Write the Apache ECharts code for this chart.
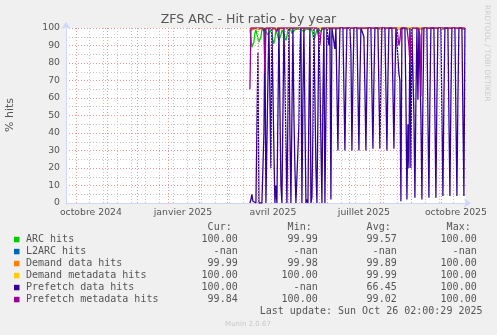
<!DOCTYPE html>
<html><head><meta charset="utf-8">
<script src="https://cdn.jsdelivr.net/npm/echarts@6/dist/echarts.min.js"></script>
<style>html,body{margin:0;padding:0;background:#F0F0F0;}#c{width:497px;height:335px;}</style>
</head><body><div id="c"></div>
<script>
// time range of the graph (400 days, ends at last update)
const rangeStart = Date.UTC(2024, 8, 21, 2, 0, 29);
const rangeEnd = Date.UTC(2025, 9, 26, 2, 0, 29);
const dataStart = '2025-03-24'; // first daily sample, one value per day after
const yTicks = [0, 10, 20, 30, 40, 50, 60, 70, 80, 90, 100];
const xLabelDates = ['2024-10-16', '2025-01-16', '2025-04-16', '2025-07-16', '2025-10-16'];
const xLabelTexts = ['octobre 2024', 'janvier 2025', 'avril 2025', 'juillet 2025', 'octobre 2025'];
const monthGridDates = ['2024-10-01','2024-11-01','2024-12-01','2025-01-01','2025-02-01','2025-03-01','2025-04-01','2025-05-01','2025-06-01','2025-07-01','2025-08-01','2025-09-01','2025-10-01'];
const weekGridDates = ['2024-10-14','2024-10-28','2024-11-11','2024-11-25','2024-12-09','2024-12-23','2025-01-06','2025-01-20','2025-02-03','2025-02-17','2025-03-03','2025-03-17','2025-03-31','2025-04-14','2025-04-28','2025-05-12','2025-05-26','2025-06-09','2025-06-23','2025-07-07','2025-07-21','2025-08-04','2025-08-18','2025-09-01','2025-09-15','2025-09-29','2025-10-13'];

const arcHits = [
 99,98,89,90,92,97,99,99,
 94,92,93,95,99,99.5,99,99,
 99,99,96,95,96,99,99,93,
 91,94,99,99,95,93,94,96,
 99,99,99,95,93,95,99,99,
 99,99,97,96,97,99,99,99,
 99.5,99,99,99,98,98,98,99,
 99.5,99.5,99.5,99,99,99,99,96,
 93,94,97,99,99,99,98,98,
 98,99.5,99.5,99.8,99.5,99.8,99.8,99.5,
 99.8,99.5,99.8,99.8,99.8,99.6,99.8,99.8,
 99.5,99.8,99.8,99.9,99.8,99.8,99.7,99.5,
 99.8,99.9,99.8,99.8,99.8,99.6,99.4,99.8,
 99.9,99.8,99.9,99.8,99.7,99.5,99.8,99.9,
 99.8,99.8,99.8,99.6,99.4,99.8,99.9,99.8,
 99.9,99.8,99.6,99.5,99.8,99.9,99.8,99.9,
 99.8,99.7,99.4,99.8,99.9,99.8,99.8,99.9,
 99.7,99.5,99.8,99.9,99.8,99.9,99.8,99.6,
 99.4,99.8,99.9,99.8,99.6,99.3,99.5,99.4,
 99.8,99.9,99.8,99.9,99.6,99.4,99.6,99.5,
 99.6,99.8,99.9,99.8,99.6,99.3,99.8,99.9,
 99.6,99.8,99.7,99.4,99.3,99.8,99.9,99.9,
 99.8,99.9,99.6,99.3,99.8,99.9,99.9,99.8,
 99.9,99.6,99.3,99.8,99.9,99.9,99.8,99.9,
 99.6,99.3,99.8,99.9,99.9,99.8,99.9,99.6,
 99.3,99.8,99.9,99.9,99.8,99.9,99.6,99.3,
 99.8,99.9,99.9,99.8,99.9,99.6,99.3,100
];
const demandDataHits = [
 99,99.5,98.5,99,99.5,99.8,99.9,99.8,
 99.5,99,99.2,99.6,99.8,99.9,99.8,99.7,
 99.8,99.8,99.5,99.4,99.7,99.8,99.9,99.3,
 99.2,99.5,99.8,99.9,99.7,99.4,99.5,99.7,
 99.8,99.9,99.9,99.7,99.5,99.7,99.9,99.9,
 99.9,99.9,99.8,99.7,99.8,99.9,99.9,99.9,
 99.9,99.9,99.9,99.9,99.8,99.8,99.9,99.9,
 100,100,99.9,99.9,99.9,99.9,99.9,99.8,
 99.6,99.7,99.8,99.9,99.9,99.9,99.9,99.8,
 99.9,100,100,100,100,100,100,100,
 100,99.9,100,100,100,100,100,100,
 99.9,100,100,100,100,100,100,99.9,
 100,100,100,100,100,100,99.9,100,
 100,100,100,100,100,99.9,100,100,
 100,100,100,100,99.9,100,100,100,
 100,100,100,99.9,100,100,100,100,
 100,100,99.9,100,100,100,100,100,
 100,99.9,100,100,100,100,100,100,
 99.9,100,100,100,100,100,100,99.9,
 100,100,100,100,100,99.9,100,100,
 100,100,100,100,100,99.9,100,100,
 100,100,100,100,99.9,100,100,100,
 100,100,100,99.9,100,100,100,100,
 100,100,99.9,100,100,100,100,100,
 100,99.9,100,100,100,100,100,100,
 99.9,100,100,100,100,100,100,99.9,
 100,100,100,100,100,100,99.9,99.99
];
const demandMetaHits = [
 99.9,100,99.9,100,100,100,100,100,
 100,99.9,100,100,100,100,100,100,
 100,100,99.9,100,100,100,100,99.9,
 99.9,100,100,100,100,99.9,100,100,
 100,100,100,100,99.9,100,100,100,
 100,100,100,99.9,100,100,100,100,
 100,100,100,100,100,100,100,100,
 100,100,100,100,100,100,100,100,
 100,100,100,100,100,100,100,100,
 100,100,100,100,100,100,100,100,
 100,100,100,100,100,100,100,100,
 100,100,100,100,100,100,100,100,
 100,100,100,100,100,100,100,100,
 100,100,100,100,100,100,100,100,
 100,100,100,100,100,100,100,100,
 100,100,100,100,100,100,100,100,
 100,100,100,100,100,100,100,100,
 100,100,100,100,100,100,100,100,
 100,100,100,100,100,100,100,100,
 100,100,100,100,100,100,100,100,
 100,100,100,100,100,100,100,100,
 100,100,100,100,100,100,100,100,
 100,100,100,100,100,100,100,100,
 100,100,100,100,100,100,100,100,
 100,100,100,100,100,100,100,100,
 100,100,100,100,100,100,100,100,
 100,100,100,100,100,100,100,100
];
const prefetchDataHits = [
 0,2,5,1,0,0,0,0,
 86,0,0,1,0,0,40,100,
 0,35,70,100,60,20,100,65,
 30,0,10,0,50,100,55,10,
 0,0,100,70,35,0,0,100,
 40,0,0,100,50,20,0,1,
 0,45,88,100,0,60,100,50,
 0,2,0,55,100,0,3,40,
 100,60,20,0,1,100,70,35,
 0,60,100,0,50,100,100,90,
 100,2,100,100,100,88,100,65,
 30,70,100,100,100,100,65,30,
 70,100,100,100,100,86,30,70,
 100,100,100,100,65,30,70,100,
 100,100,95,65,30,70,100,100,
 100,100,65,31,70,100,100,100,
 100,65,31,70,100,100,100,100,
 65,30,70,100,100,100,100,65,
 31,70,100,100,100,74,70,1,
 100,100,100,100,60,2,45,20,
 100,20,100,100,50,3,60,100,
 59,100,100,50,2,60,100,100,
 100,100,50,3,60,100,100,100,
 100,50,3,60,100,100,100,100,
 50,4,60,100,100,100,100,50,
 4,60,100,100,100,100,50,4,
 60,100,100,100,100,50,4,100
];
const prefetchMetaHits = [
 65,100,100,99,100,100,100,100,
 100,100,100,100,100,100,98,74,
 100,100,100,100,99,100,100,100,
 100,100,100,98,100,100,100,100,
 100,100,100,100,100,100,100,100,
 100,100,100,100,100,99,100,100,
 100,100,100,100,100,100,100,100,
 100,100,100,100,100,100,100,100,
 100,100,100,100,100,94,90,97,
 100,100,100,100,100,100,100,100,
 100,100,100,100,100,100,100,100,
 100,100,100,100,100,100,100,100,
 100,100,100,100,100,100,100,100,
 100,100,100,100,100,100,100,100,
 100,100,100,100,100,100,100,100,
 100,100,100,100,100,100,100,100,
 100,100,100,100,100,100,100,100,
 100,100,100,100,100,100,100,100,
 100,100,100,100,95,90,93,100,
 100,100,100,100,100,100,99,90,
 80,96,100,100,100,100,100,100,
 100,100,96,61,100,100,100,100,
 100,100,100,100,100,100,100,100,
 100,100,100,100,100,100,100,100,
 100,100,100,100,100,100,100,100,
 100,100,100,100,100,100,100,100,
 100,100,100,100,100,100,100,99.84
];

const legendNames = ['ARC hits', 'L2ARC hits', 'Demand data hits', 'Demand metadata hits', 'Prefetch data hits', 'Prefetch metadata hits'];
const curVals = ['100.00', '-nan', '99.99', '100.00', '100.00', '99.84'];
const minVals = ['99.99', '-nan', '99.98', '100.00', '-nan', '100.00'];
const avgVals = ['99.57', '-nan', '99.89', '99.99', '66.45', '99.02'];
const maxVals = ['100.00', '-nan', '100.00', '100.00', '100.00', '100.00'];
const colHeaders = ['Cur:', 'Min:', 'Avg:', 'Max:'];
const lastUpdate = 'Last update: Sun Oct 26 02:00:29 2025';

// ---- presentation ----
const seriesColors = ['#00CC00', '#0066B3', '#FF8000', '#FFCC00', '#330099', '#990099'];
const DAY = 86400000;
function dayOf(s) { return (Date.parse(s + 'T00:00:00Z') - rangeStart) / DAY; }
const d0 = dayOf(dataStart);
function pts(arr) { return arr.map((v, i) => [d0 + i, v]); }
const xLabelDays = xLabelDates.map(dayOf);

const chart = echarts.init(document.getElementById('c'), null, {renderer: 'canvas'});
const gridMarks = [];
weekGridDates.forEach(s => gridMarks.push({xAxis: dayOf(s), lineStyle: {color: '#c4c4c4', type: [1, 2], width: 1}}));
monthGridDates.forEach(s => gridMarks.push({xAxis: dayOf(s), lineStyle: {color: '#e49a9a', type: [1, 2], width: 1}}));

const txt = '#555';
const mono = '10px "DejaVu Sans Mono"';
const graphics = [];
graphics.push({type: 'text', x: 248.5, y: 19.5, style: {text: 'ZFS ARC - Hit ratio - by year', fill: txt, font: '12.5px "DejaVu Sans"', textAlign: 'center', textVerticalAlign: 'middle'}});
graphics.push({type: 'text', x: 10.5, y: 115, rotation: Math.PI / 2, style: {text: '% hits', fill: txt, font: '11px "DejaVu Sans"', textAlign: 'center', textVerticalAlign: 'middle'}});
graphics.push({type: 'text', x: 487, y: 5, rotation: -Math.PI / 2, style: {text: 'RRDTOOL / TOBI OETIKER', fill: '#cccccc', font: '7.5px "DejaVu Sans"', textAlign: 'left', textVerticalAlign: 'middle'}});
const colRight = [237.7, 317.7, 396.7, 476.7];
colHeaders.forEach((h, j) => graphics.push({type: 'text', x: colRight[j] - 6, y: 227.8, style: {text: h, fill: txt, font: mono, textAlign: 'right', textVerticalAlign: 'middle'}}));
legendNames.forEach((n, i) => {
  const y = 239.6 + i * 12;
  graphics.push({type: 'rect', shape: {x: 14, y: y - 2.8, width: 5.5, height: 5.5}, style: {fill: seriesColors[i]}});
  graphics.push({type: 'text', x: 26, y: y, style: {text: n, fill: txt, font: mono, textAlign: 'left', textVerticalAlign: 'middle'}});
  [curVals, minVals, avgVals, maxVals].forEach((arr, j) => graphics.push({type: 'text', x: colRight[j], y: y, style: {text: arr[i], fill: txt, font: mono, textAlign: 'right', textVerticalAlign: 'middle'}}));
});
graphics.push({type: 'text', x: 482.5, y: 311.6, style: {text: lastUpdate, fill: txt, font: mono, textAlign: 'right', textVerticalAlign: 'middle'}});
graphics.push({type: 'text', x: 248, y: 324, style: {text: 'Munin 2.0.67', fill: '#c8c8c8', font: '7px "DejaVu Sans"', textAlign: 'center', textVerticalAlign: 'middle'}});

function lineSeries(name, arr, color) {
  return {name, type: 'line', data: pts(arr), showSymbol: false, symbol: 'none', silent: true,
    lineStyle: {color, width: 1.3}, itemStyle: {color}, emphasis: {disabled: true}, z: 3};
}

chart.setOption({
  backgroundColor: '#F0F0F0',
  animation: false,
  grid: {left: 66, right: 31, top: 28, bottom: 132, containLabel: false, show: true, backgroundColor: '#ffffff', borderWidth: 0},
  xAxis: {type: 'value', min: 0, max: (rangeEnd - rangeStart) / DAY,
    axisLine: {show: true, lineStyle: {color: '#CFD6F8', width: 1}, symbol: ['none', 'arrow'], symbolSize: [7, 7], symbolOffset: [0, 5]},
    axisTick: {show: false}, splitLine: {show: false},
    axisLabel: {customValues: xLabelDays, formatter: v => { let k = 0, best = 1e9; xLabelDays.forEach((d, i) => { if (Math.abs(d - v) < best) { best = Math.abs(d - v); k = i; } }); return xLabelTexts[k]; },
      color: txt, fontSize: 9.3, fontFamily: 'DejaVu Sans', margin: 5}},
  yAxis: {type: 'value', min: yTicks[0], max: yTicks[yTicks.length - 1], interval: 10,
    axisLine: {show: true, lineStyle: {color: '#CFD6F8', width: 1}, symbol: ['none', 'arrow'], symbolSize: [7, 7], symbolOffset: [0, 6]},
    axisTick: {show: false},
    axisLabel: {color: txt, fontSize: 9.3, fontFamily: 'DejaVu Sans', margin: 6},
    splitLine: {show: true, lineStyle: {color: '#e49a9a', type: [1, 2], width: 1}},
    minorTick: {show: false, splitNumber: 2},
    minorSplitLine: {show: true, lineStyle: {color: '#c4c4c4', type: [1, 2], width: 1}}},
  series: [
    {name: 'grid', type: 'line', data: [], silent: true, z: 1,
      markLine: {silent: true, symbol: ['none', 'none'], label: {show: false}, animation: false, data: gridMarks}},
    lineSeries(legendNames[0], arcHits, seriesColors[0]),
    lineSeries(legendNames[2], demandDataHits, seriesColors[2]),
    lineSeries(legendNames[3], demandMetaHits, seriesColors[3]),
    lineSeries(legendNames[4], prefetchDataHits, seriesColors[4]),
    lineSeries(legendNames[5], prefetchMetaHits, seriesColors[5])
  ],
  graphic: graphics
});
</script></body></html>
